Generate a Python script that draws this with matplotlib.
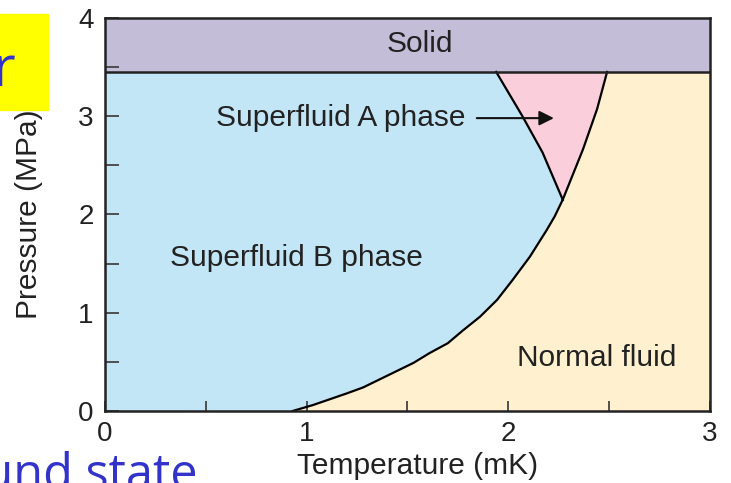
import matplotlib
matplotlib.use("Agg")
import matplotlib.pyplot as plt
from matplotlib.patches import Rectangle

# phase boundaries (T in mK, P in MPa)
nb_T = [0.93, 1.03, 1.115, 1.20, 1.28, 1.36, 1.53, 1.61, 1.70, 1.775, 1.86,
        1.944, 2.02, 2.107, 2.19, 2.23, 2.27]
nb_P = [0.0, 0.06, 0.12, 0.18, 0.24, 0.32, 0.49, 0.59, 0.69, 0.82, 0.96,
        1.13, 1.33, 1.57, 1.84, 1.98, 2.15]
an_T = [2.27, 2.37, 2.44, 2.49]
an_P = [2.15, 2.66, 3.07, 3.45]
ab_T = [2.27, 2.17, 2.07, 1.94]
ab_P = [2.15, 2.63, 3.00, 3.45]
p_solid = 3.45
t_max, p_max = 3.0, 4.0

labels = {
    "Solid": (1.56, 3.73),
    "Superfluid A phase": (1.17, 2.98),
    "Superfluid B phase": (0.95, 1.56),
    "Normal fluid": (2.44, 0.54),
}

c_blue = "#c3e6f6"
c_beige = "#fff1d0"
c_pink = "#fbcedc"
c_purple = "#c3bdd8"
font = "Liberation Sans"
fs = 21.5

fig = plt.figure(figsize=(7.31, 4.83), dpi=100)
ax = fig.add_axes([0.1436, 0.149, 0.8276, 0.814])

# regions
ax.fill([0, t_max, t_max, 0], [p_solid, p_solid, p_max, p_max], color=c_purple, lw=0)
ax.fill([0] + nb_T + ab_T[1:] + [0], [0] + nb_P + ab_P[1:] + [p_solid],
        color=c_blue, lw=0)
ax.fill(nb_T + an_T[1:] + [t_max, t_max], nb_P + an_P[1:] + [p_solid, 0],
        color=c_beige, lw=0)
ax.fill(ab_T + an_T[::-1], ab_P + an_P[::-1], color=c_pink, lw=0)

# lines
ax.plot(nb_T, nb_P, color="k", lw=1.6, solid_joinstyle="round")
ax.plot(an_T, an_P, color="k", lw=1.6, solid_joinstyle="round")
ax.plot(ab_T, ab_P, color="k", lw=1.6, solid_joinstyle="round")
ax.axhline(p_solid, color="#222222", lw=1.8)

ax.set_xlim(0, t_max)
ax.set_ylim(0, p_max)
ax.set_xticks([0, 1, 2, 3])
ax.set_xticks([0.5, 1.5, 2.5], minor=True)
ax.set_yticks([0, 1, 2, 3, 4])
ax.set_yticks([0.5, 1.5, 2.5, 3.5], minor=True)
ax.tick_params(axis="x", which="both", direction="in", length=7, width=1.3,
               color="#444444", pad=7, labelsize=20)
ax.tick_params(axis="y", which="both", direction="in", length=10, width=1.3,
               color="#444444", pad=8, labelsize=20)
for lab in ax.get_xticklabels() + ax.get_yticklabels():
    lab.set_fontfamily(font)
    lab.set_color("#222222")
for sp in ax.spines.values():
    sp.set_linewidth(1.8)
    sp.set_color("#222222")

ax.set_xlabel("Temperature (mK)", fontsize=fs, family=font, color="#222222")
ax.set_ylabel("Pressure (MPa)", fontsize=fs, family=font, color="#222222")
ax.xaxis.set_label_coords(0.517, -0.105)
ax.yaxis.set_label_coords(-0.103, 0.5)

for txt, (x, y) in labels.items():
    ax.text(x, y, txt, ha="center", va="center", fontsize=fs, family=font,
            color="#222222")
ax.annotate("", xy=(2.24, 2.98), xytext=(1.83, 2.98),
            arrowprops=dict(arrowstyle="-|>", color="#111111", lw=1.5,
                            mutation_scale=22))

# slide fragments around the picture
fig.patches.append(Rectangle((0, 1 - 110 / 483), 48 / 731, 96 / 483,
                             transform=fig.transFigure, color="#ffff00", zorder=0))
fig.text(-8 / 731, 1 - 86 / 483, "r", fontsize=40, family="Open Sans",
         color="#3333cc", ha="left", va="baseline")
fig.text(197 / 731, 1 - 489 / 483, "ground state", fontsize=35, family="Open Sans",
         color="#3333cc", ha="right", va="baseline")

fig.savefig("out.png", dpi=100)
